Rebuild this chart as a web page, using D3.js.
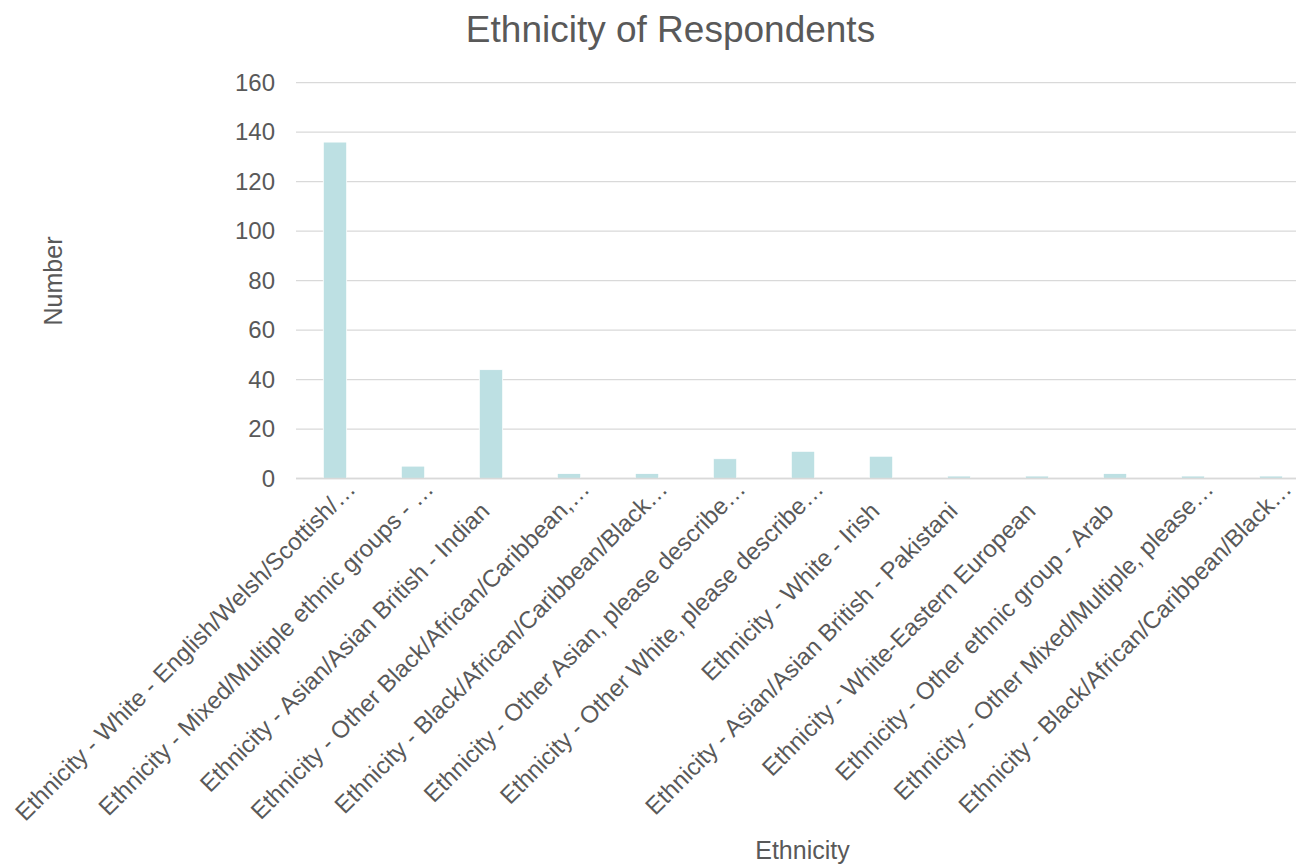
<!DOCTYPE html>
<html>
<head>
<meta charset="utf-8">
<script src="https://cdn.jsdelivr.net/npm/d3@7"></script>
<style>
  html, body { margin: 0; padding: 0; background: #ffffff; }
  svg { display: block; font-family: "Liberation Sans", Arial, sans-serif; }
</style>
</head>
<body>
<svg id="chart" width="1296" height="864"></svg>
<script>
const categories = [
  "Ethnicity - White - English/Welsh/Scottish/…",
  "Ethnicity - Mixed/Multiple ethnic groups - …",
  "Ethnicity - Asian/Asian British - Indian",
  "Ethnicity - Other Black/African/Caribbean,…",
  "Ethnicity - Black/African/Caribbean/Black…",
  "Ethnicity - Other Asian, please describe…",
  "Ethnicity - Other White, please describe…",
  "Ethnicity - White - Irish",
  "Ethnicity - Asian/Asian British - Pakistani",
  "Ethnicity - White-Eastern European",
  "Ethnicity - Other ethnic group - Arab",
  "Ethnicity - Other Mixed/Multiple, please…",
  "Ethnicity - Black/African/Caribbean/Black…"
];
const values = [136, 5, 44, 2, 2, 8, 11, 9, 1, 1, 2, 1, 1];
const yTicks = [0, 20, 40, 60, 80, 100, 120, 140, 160];
const titleText = "Ethnicity of Respondents";
const xTitle = "Ethnicity";
const yTitle = "Number";

(function () {
const svg = d3.select("#chart");
const textColor = "#595959";
const gridColor = "#d9d9d9";
const barColor = "#bde0e3";

const pLeft = 296, pRight = 1310, pTop = 82.7, pBottom = 478.5;

const x = d3.scaleBand().domain(categories.map((d, i) => i)).range([pLeft, pRight]).paddingInner(0.7).paddingOuter(0.35);
const y = d3.scaleLinear().domain([0, 160]).range([pBottom, pTop]);

// gridlines
svg.append("g").selectAll("line").data(yTicks).join("line")
  .attr("x1", pLeft).attr("x2", 1296)
  .attr("y1", d => y(d)).attr("y2", d => y(d))
  .attr("stroke", gridColor).attr("stroke-width", 1.3);

// y axis labels
const yAxis = d3.axisLeft(y).tickValues(yTicks).tickSize(0).tickPadding(0);
const gy = svg.append("g").attr("transform", `translate(275,0)`).call(yAxis);
gy.select(".domain").remove();
gy.selectAll("text").attr("fill", textColor).style("font-size", "24px")
  .style("font-family", "'Liberation Sans', Arial, sans-serif");

// bars
svg.append("g").selectAll("rect").data(values).join("rect")
  .attr("x", (d, i) => x(i))
  .attr("width", x.bandwidth())
  .attr("y", d => y(d))
  .attr("height", d => y(0) - y(d))
  .attr("fill", barColor)
  .attr("stroke", "#ffffff").attr("stroke-width", 0.8);

// baseline
svg.append("line").attr("x1", pLeft).attr("x2", 1296).attr("y1", y(0)).attr("y2", y(0))
  .attr("stroke", gridColor).attr("stroke-width", 1.5);

// category labels
svg.append("g").selectAll("text").data(categories).join("text")
  .attr("transform", (d, i) => `translate(${x(i) + x.bandwidth() / 2},${y(0) + 34}) rotate(-45)`)
  .attr("x", d => d.endsWith("…") ? 31 : 0)
  .attr("text-anchor", "end")
  .attr("fill", textColor)
  .style("font-size", "24px")
  .text(d => d);

// title
svg.append("text").attr("x", 670.5).attr("y", 42).attr("text-anchor", "middle")
  .attr("fill", textColor).style("font-size", "37px").text(titleText);

// axis titles
svg.append("text").attr("x", 802.5).attr("y", 858.5).attr("text-anchor", "middle")
  .attr("fill", textColor).style("font-size", "25px").text(xTitle);
svg.append("text").attr("transform", "translate(62,281) rotate(-90)").attr("text-anchor", "middle")
  .attr("fill", textColor).style("font-size", "25px").text(yTitle);
})();
</script>
</body>
</html>
